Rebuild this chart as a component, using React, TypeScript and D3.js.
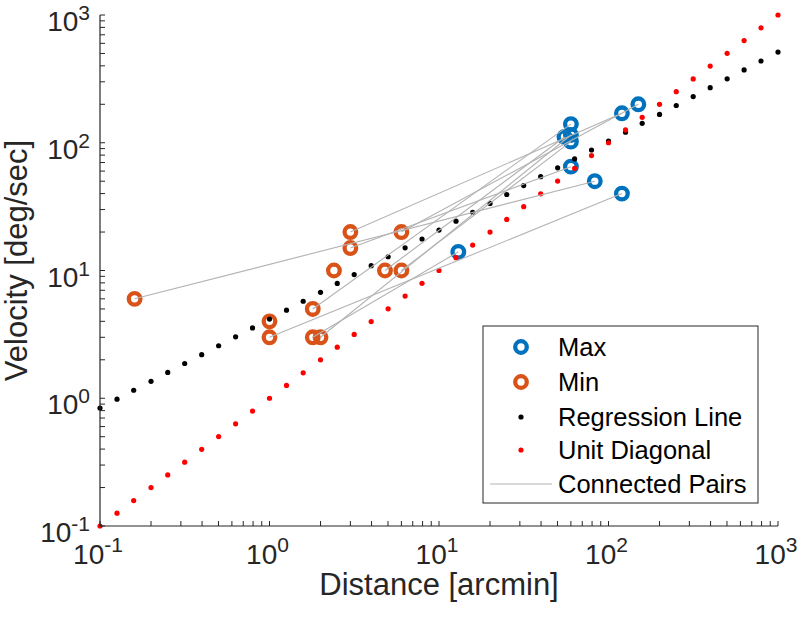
import React from "react";
import * as d3 from "d3";

// ---- data ----
// connected pairs: min (orange) -> max (blue)
const minDist = [0.16, 1, 1.8, 1.8, 2, 3, 3, 4.8, 6, 6];
const minVel = [6, 3, 5, 3, 3, 20, 15, 10, 10, 20];
const maxDist = [83, 120, 60, 13, 60, 120, 60, 55, 60, 150];
const maxVel = [50, 40, 140, 14, 115, 170, 65, 111, 102, 200];
// min points without a drawn partner line
const soloMinDist = [1, 2.4];
const soloMinVel = [4, 10];

const lineX = [
  0.1, 0.126, 0.158, 0.2, 0.251, 0.316, 0.398, 0.501, 0.631, 0.794,
  1, 1.26, 1.58, 2, 2.51, 3.16, 3.98, 5.01, 6.31, 7.94,
  10, 12.6, 15.8, 20, 25.1, 31.6, 39.8, 50.1, 63.1, 79.4,
  100, 126, 158, 200, 251, 316, 398, 501, 631, 794, 1000,
];
const regY = [
  0.838, 0.984, 1.155, 1.357, 1.593, 1.87, 2.194, 2.577, 3.025, 3.551,
  4.169, 4.894, 5.745, 6.745, 7.917, 9.294, 10.91, 12.81, 15.04, 17.65,
  20.72, 24.33, 28.56, 33.53, 39.36, 46.21, 54.25, 63.69, 74.77, 87.77,
  103.0, 121.0, 142.0, 166.7, 195.7, 229.8, 269.7, 316.7, 371.7, 436.4, 512.3,
];
const diagY = lineX;

const majorTicks = [0.1, 1, 10, 100, 1000];
const tickExps = ["-1", "0", "1", "2", "3"];
const legendLabels = ["Max", "Min", "Regression Line", "Unit Diagonal", "Connected Pairs"];

const BLUE = "#0072BD";
const ORANGE = "#D95319";
const AXIS = "#262626";
const GRAY = "#b3b3b3";
const FONT = "'Liberation Sans', Arial, Helvetica, sans-serif";

export default function App() {
  const W = 800, H = 622;
  const x = d3.scaleLog().domain([0.1, 1000]).range([100, 778]);
  const y = d3.scaleLog().domain([0.1, 1000]).range([526, 15]);

  const minorTicks: number[] = [];
  for (let e = -1; e < 3; e++) {
    for (let m = 2; m <= 9; m++) minorTicks.push(m * Math.pow(10, e));
  }
  const allTicks = [...majorTicks, ...minorTicks];
  const tl = 5;

  const [x0, x1] = x.range();
  const [y0, y1] = y.range();

  const legX = 483, legY = 326, legW = 275, legH = 177;
  const rowY = [347, 382, 417, 450, 484];

  const allMinD = [...minDist, ...soloMinDist];
  const allMinV = [...minVel, ...soloMinVel];

  return (
    <svg width={W} height={H} style={{ position: "absolute", left: 0, top: 0, background: "#fff" }} fontFamily={FONT}>
      <rect x={0} y={0} width={W} height={H} fill="#fff" />
      {maxDist.map((d, i) => (
        <circle key={"b" + i} cx={x(d)} cy={y(maxVel[i])} r={5.8} fill="none" stroke={BLUE} strokeWidth={4.3} />
      ))}
      {allMinD.map((d, i) => (
        <circle key={"o" + i} cx={x(d)} cy={y(allMinV[i])} r={5.8} fill="none" stroke={ORANGE} strokeWidth={4.3} />
      ))}
      {lineX.map((d, i) => (
        <circle key={"k" + i} cx={x(d)} cy={y(regY[i])} r={2.6} fill="#000" />
      ))}
      {lineX.map((d, i) => (
        <circle key={"r" + i} cx={x(d)} cy={y(diagY[i])} r={2.6} fill="#ff0000" />
      ))}
      {minDist.map((d, i) => (
        <line key={"l" + i} x1={x(d)} y1={y(minVel[i])} x2={x(maxDist[i])} y2={y(maxVel[i])} stroke={GRAY} strokeWidth={1.1} />
      ))}

      {/* axes */}
      <line x1={x0} y1={y0} x2={x1} y2={y0} stroke={AXIS} strokeWidth={1.2} />
      <line x1={x0} y1={y0} x2={x0} y2={y1} stroke={AXIS} strokeWidth={1.2} />
      {allTicks.map((t, i) => (
        <g key={"t" + i}>
          <line x1={x(t)} x2={x(t)} y1={y0} y2={y0 - tl} stroke={AXIS} strokeWidth={1} />
          <line y1={y(t)} y2={y(t)} x1={x0} x2={x0 + tl} stroke={AXIS} strokeWidth={1} />
        </g>
      ))}
      {majorTicks.map((t, i) => (
        <text key={"xl" + i} x={x(t) - 2} y={564} textAnchor="middle" fontSize={28} fill={AXIS}>
          10<tspan fontSize={21} dy={-12}>{tickExps[i]}</tspan>
        </text>
      ))}
      {majorTicks.map((t, i) => (
        <text key={"yl" + i} x={90} y={y(t) + 16} textAnchor="end" fontSize={28} fill={AXIS}>
          10<tspan fontSize={21} dy={-11}>{tickExps[i]}</tspan>
        </text>
      ))}
      <text x={(x0 + x1) / 2} y={595} textAnchor="middle" fontSize={31} fill={AXIS}>
        Distance [arcmin]
      </text>
      <text transform={`translate(27,${(y0 + y1) / 2 - 10}) rotate(-90)`} textAnchor="middle" fontSize={31} fill={AXIS}>
        Velocity [deg/sec]
      </text>

      {/* legend */}
      <rect x={legX} y={legY} width={legW} height={legH} fill="#fff" stroke={AXIS} strokeWidth={1} />
      <circle cx={521} cy={rowY[0]} r={5.8} fill="none" stroke={BLUE} strokeWidth={4.3} />
      <circle cx={521} cy={rowY[1]} r={5.8} fill="none" stroke={ORANGE} strokeWidth={4.3} />
      <circle cx={521} cy={rowY[2]} r={2.6} fill="#000" />
      <circle cx={521} cy={rowY[3]} r={2.6} fill="#ff0000" />
      <line x1={490} x2={552} y1={rowY[4]} y2={rowY[4]} stroke={GRAY} strokeWidth={1.1} />
      {legendLabels.map((s, i) => (
        <text key={"lg" + i} x={558} y={rowY[i] + 9} fontSize={25.5} fill="#000">
          {s}
        </text>
      ))}
    </svg>
  );
}
